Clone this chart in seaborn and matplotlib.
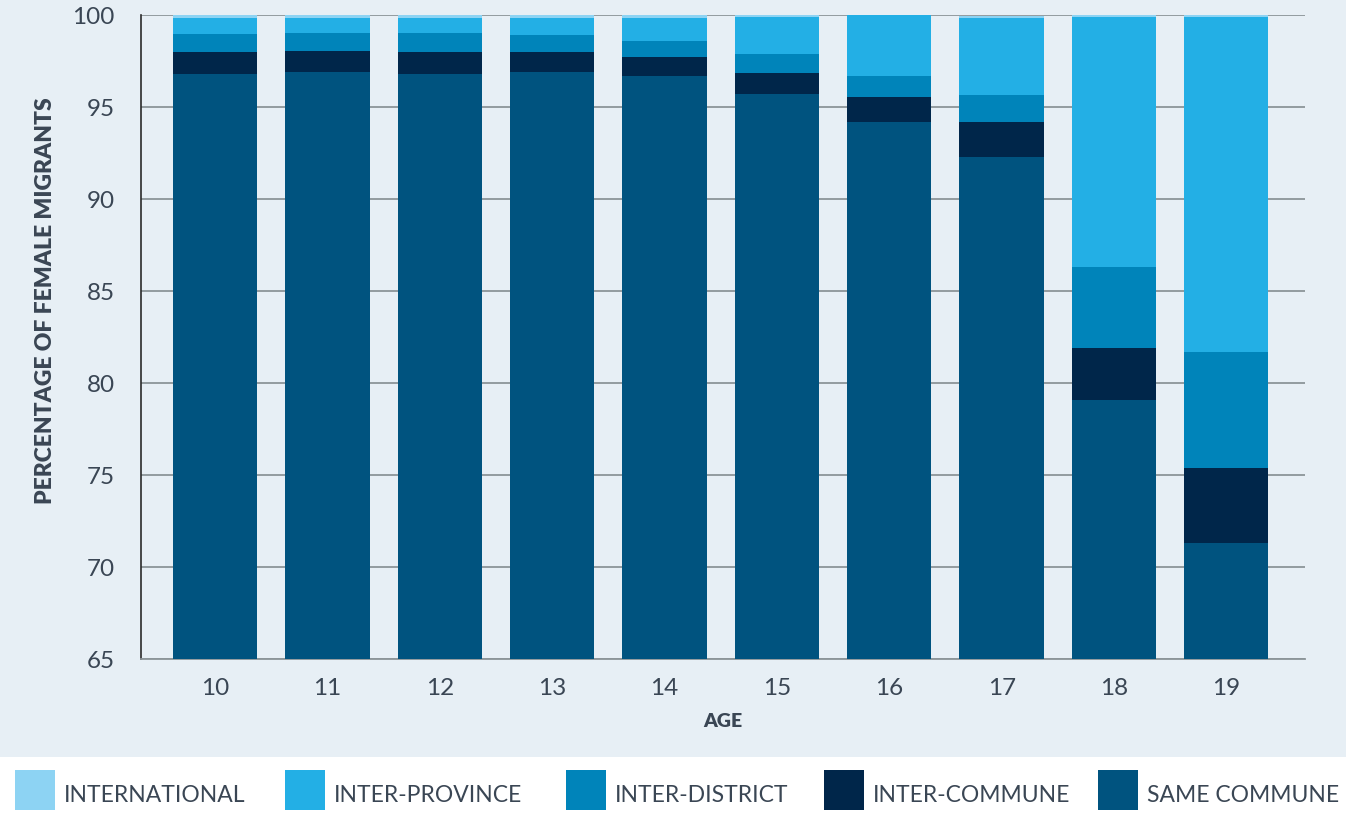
import matplotlib
matplotlib.use('Agg')
import matplotlib.pyplot as plt
from matplotlib.patches import Rectangle
import seaborn as sns
import numpy as np

# Data (percent of female migrants by age)
ages = ['10', '11', '12', '13', '14', '15', '16', '17', '18', '19']
same_commune = [96.8, 96.9, 96.8, 96.9, 96.7, 95.7, 94.2, 92.3, 79.1, 71.3]
inter_commune = [1.2, 1.15, 1.2, 1.1, 1.0, 1.15, 1.35, 1.9, 2.8, 4.1]
inter_district = [0.95, 0.95, 1.0, 0.9, 0.9, 1.05, 1.15, 1.45, 4.4, 6.3]
inter_province = [0.9, 0.85, 0.85, 0.95, 1.25, 2.0, 3.3, 4.2, 13.6, 18.2]
international = [0.15, 0.15, 0.15, 0.15, 0.15, 0.1, 0.15, 0.1, 0.1, 0.1]

series_names = ['INTERNATIONAL', 'INTER-PROVINCE', 'INTER-DISTRICT',
                'INTER-COMMUNE', 'SAME COMMUNE']
series_colors = ['#8DD3F3', '#23AFE5', '#0084BA', '#00264A', '#00537F']

BG = '#E7EFF5'
TEXT = '#3A4654'

sns.set_style('white')
plt.rcParams['font.family'] = ['Lato', 'DejaVu Sans']

fig = plt.figure(figsize=(13.46, 8.16), dpi=100)
fig.patch.set_facecolor('white')
# light blue panel behind the chart, legend strip stays white
fig.add_artist(Rectangle((0, 0.0723), 1, 1 - 0.0723, transform=fig.transFigure,
                         facecolor=BG, edgecolor='none', zorder=-10))

ax = fig.add_axes([0.1048, 0.1924, 0.8647, 0.7892])
ax.set_facecolor(BG)

# stacked bars: draw cumulative totals from the top series down
stack_bottom_up = [same_commune, inter_commune, inter_district, inter_province, international]
cum = np.cumsum(np.array(stack_bottom_up), axis=0)
for i in range(len(stack_bottom_up) - 1, -1, -1):
    color = series_colors[len(series_colors) - 1 - i]
    sns.barplot(x=ages, y=cum[i], color=color, saturation=1, width=0.75,
                linewidth=0, ax=ax, zorder=3)

ax.set_ylim(65, 100)
ax.set_xlim(-0.66, 9.7)
ax.set_yticks([65, 70, 75, 80, 85, 90, 95, 100])
ax.grid(axis='y', color='#8C9599', linewidth=1.3, zorder=0)
ax.set_axisbelow(True)
for s in ['top', 'right']:
    ax.spines[s].set_visible(False)
ax.spines['left'].set_color('#2B2B2B')
ax.spines['left'].set_linewidth(1.2)
ax.spines['bottom'].set_color('#8C9599')
ax.spines['bottom'].set_linewidth(1.3)
ax.tick_params(axis='both', length=0, labelsize=17.5, labelcolor=TEXT)
ax.tick_params(axis='y', pad=19)
ax.tick_params(axis='x', pad=14)

ax.set_ylabel('PERCENTAGE OF FEMALE MIGRANTS', fontsize=16.5, fontweight='heavy',
              color=TEXT)
ax.yaxis.set_label_coords(-0.073, 0.557)
ax.set_xlabel('AGE', fontsize=14, fontweight='heavy', color=TEXT, labelpad=10)

# legend strip at the bottom
W, H = 1346, 816
patch_x = [15, 285, 566, 824, 1098]
for name, color, px in zip(series_names, series_colors, patch_x):
    fig.add_artist(Rectangle((px / W, 1 - 810 / H), 40 / W, 40 / H,
                             transform=fig.transFigure, facecolor=color,
                             edgecolor='none'))
    fig.text((px + 49) / W, 1 - 796 / H, name, fontsize=16.5, color=TEXT,
             va='center', ha='left')

fig.savefig('out.png', dpi=100, facecolor=fig.get_facecolor())
